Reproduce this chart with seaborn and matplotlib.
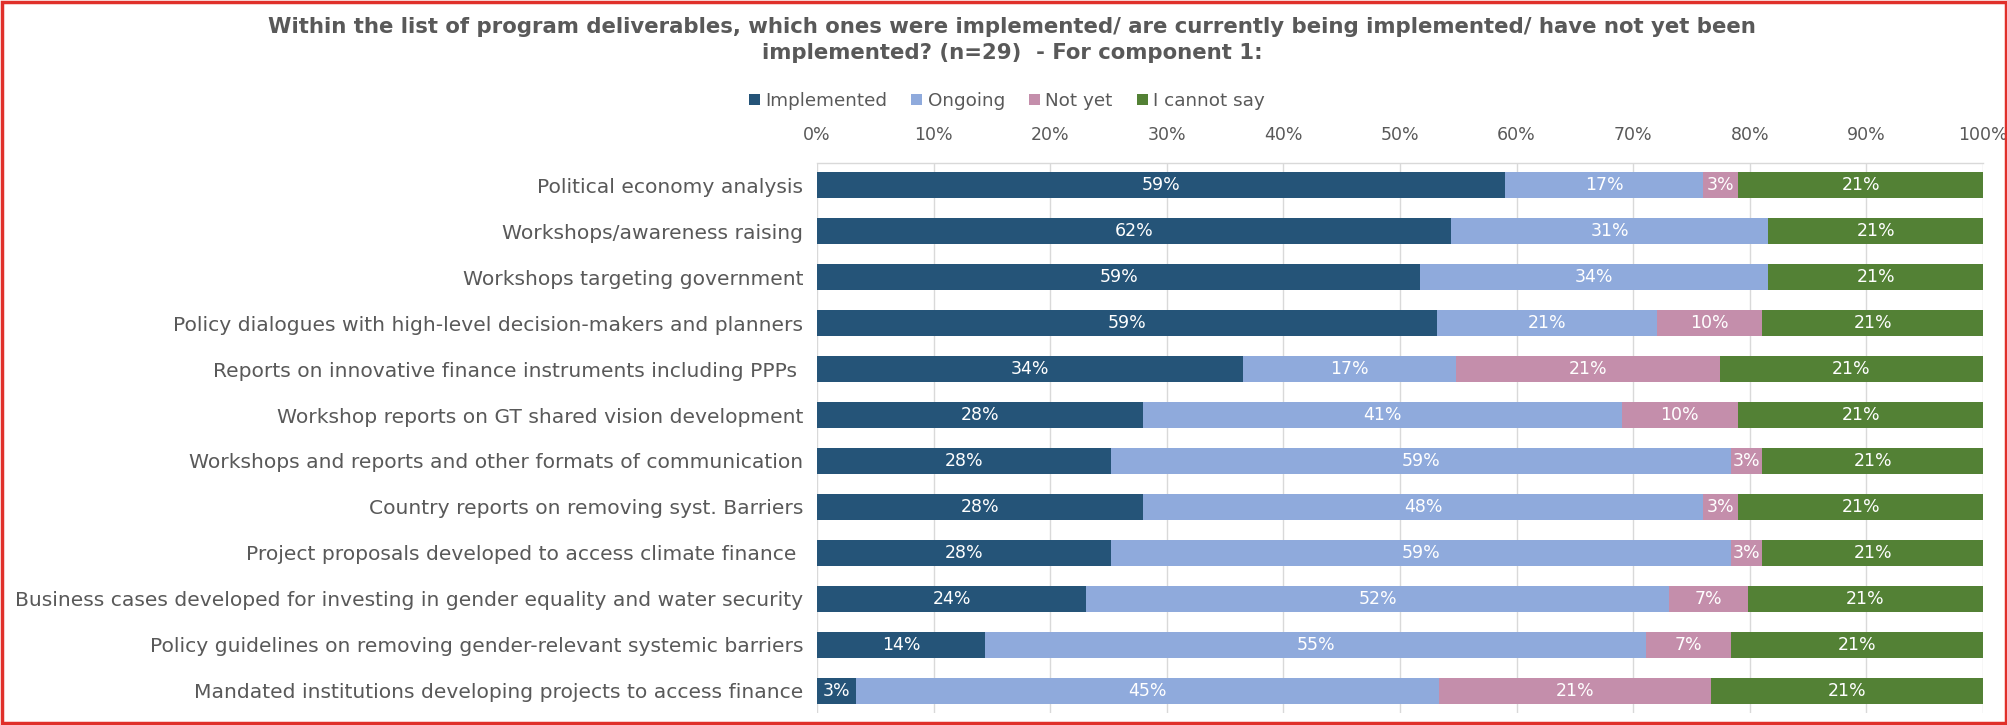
import numpy as np
import pandas as pd
import matplotlib
matplotlib.use("Agg")
import matplotlib.pyplot as plt
import seaborn as sns
from matplotlib.patches import Rectangle

categories = [
    "Political economy analysis",
    "Workshops/awareness raising",
    "Workshops targeting government",
    "Policy dialogues with high-level decision-makers and planners",
    "Reports on innovative finance instruments including PPPs ",
    "Workshop reports on GT shared vision development",
    "Workshops and reports and other formats of communication",
    "Country reports on removing syst. Barriers",
    "Project proposals developed to access climate finance ",
    "Business cases developed for investing in gender equality and water security",
    "Policy guidelines on removing gender-relevant systemic barriers",
    "Mandated institutions developing projects to access finance",
]
implemented = [59, 62, 59, 59, 34, 28, 28, 28, 28, 24, 14, 3]
ongoing     = [17, 31, 34, 21, 17, 41, 59, 48, 59, 52, 55, 45]
not_yet     = [3, 0, 0, 10, 21, 10, 3, 3, 3, 7, 7, 21]
cannot_say  = [21, 21, 21, 21, 21, 21, 21, 21, 21, 21, 21, 21]
series_names = ["Implemented", "Ongoing", "Not yet", "I cannot say"]
colors = ["#255478", "#8FAADC", "#C48EAB", "#538135"]
xtick_vals = [0, 0.1, 0.2, 0.3, 0.4, 0.5, 0.6, 0.7, 0.8, 0.9, 1.0]
xtick_labels = ["0%", "10%", "20%", "30%", "40%", "50%", "60%", "70%", "80%", "90%", "100%"]

title = ("Within the list of program deliverables, which ones were implemented/ are currently being implemented/ have not yet been\n"
         "implemented? (n=29)  - For component 1:")

sns.set_theme(style="white")
plt.rcParams['font.family'] = ['DejaVu Sans']
TXT = "#595959"

vals = np.array([implemented, ongoing, not_yet, cannot_say], dtype=float)  # 4 x 12
share = vals / vals.sum(axis=0)
cum = np.cumsum(share, axis=0)

df = pd.DataFrame({"category": categories})
for i, name in enumerate(series_names):
    df[name] = cum[i]

fig = plt.figure(figsize=(20.08, 7.25), dpi=100)
ax = fig.add_axes([817/2008, 1-713/725, (1983-817)/2008, (713-163)/725])

for i in reversed(range(4)):
    sns.barplot(data=df, x=series_names[i], y="category", orient="h",
                color=colors[i], width=0.565, ax=ax, saturation=1,
                linewidth=0, label=series_names[i])

for i in range(4):
    for j in range(len(categories)):
        if vals[i, j] > 0:
            left = cum[i, j] - share[i, j]
            ax.text(left + share[i, j]/2, j, f"{int(vals[i, j])}%",
                    ha="center", va="center", color="white", fontsize=12.5)

ax.set_xlim(0, 1)
ax.set_ylim(len(categories) - 1 + 0.48, -0.48)
ax.set_xlabel("")
ax.set_ylabel("")
ax.xaxis.tick_top()
ax.set_xticks(xtick_vals)
ax.set_xticklabels(xtick_labels, fontsize=12.5, color=TXT)
ax.tick_params(axis="x", length=0, pad=14)
ax.tick_params(axis="y", length=0, pad=10, labelsize=14.6, labelcolor=TXT)
ax.grid(axis="x", color="#D9D9D9", linewidth=1)
ax.grid(axis="y", visible=False)
ax.set_axisbelow(True)
for s in ["left", "right", "bottom"]:
    ax.spines[s].set_visible(False)
ax.spines["top"].set_color("#D9D9D9")
ax.spines["top"].set_linewidth(1)
if ax.get_legend() is not None:
    ax.get_legend().remove()

fig.text(1012/2008, 1-40/725, title, ha="center", va="center", fontsize=15.3,
         fontweight="bold", color=TXT, linespacing=1.42)

handles = [Rectangle((0, 0), 1, 1, facecolor=c, edgecolor="none") for c in colors]
fig.legend(handles, series_names, loc="center", bbox_to_anchor=(1007/2008, 1-101/725),
           ncol=4, frameon=False, fontsize=13.2, handlelength=0.6, handleheight=0.6,
           handletextpad=0.3, columnspacing=1.3, labelcolor=TXT)

fig.patches.append(Rectangle((0.0012, 0.0025), 0.9976, 0.995, transform=fig.transFigure,
                             fill=False, edgecolor="#E0302A", linewidth=2.5))

fig.savefig("out.png", dpi=100)
